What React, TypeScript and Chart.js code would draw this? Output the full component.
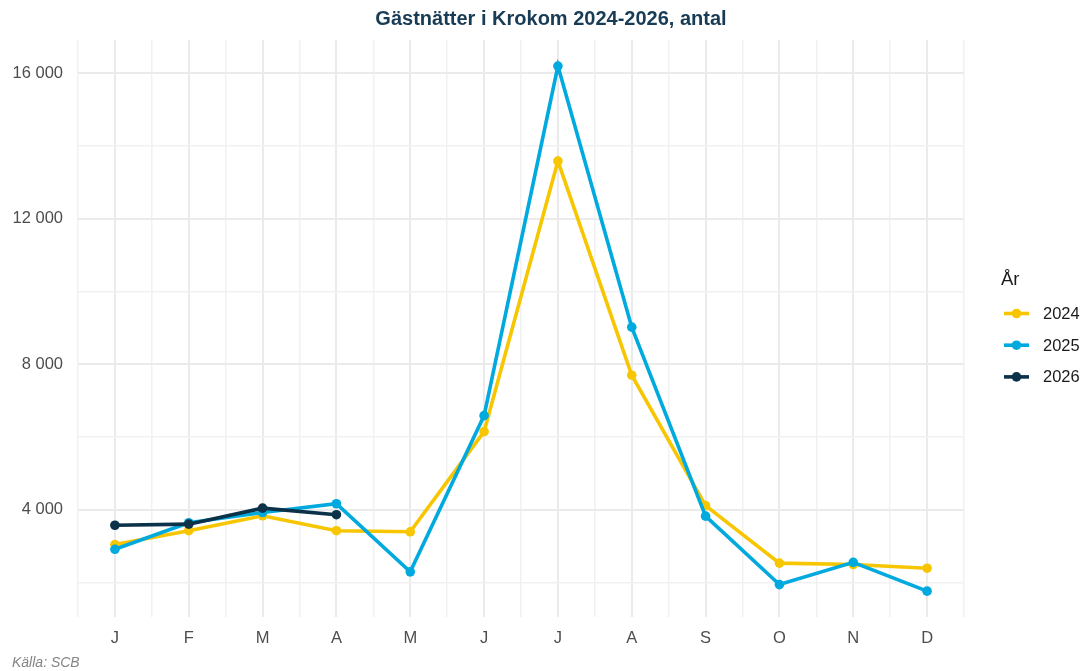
import React, { useEffect, useRef } from 'react';
import { Chart, registerables } from 'chart.js';

Chart.register(...registerables);

const titleText = 'Gästnätter i Krokom 2024-2026, antal';
const captionText = 'Källa: SCB';
const legendTitle = 'År';

const months = ['J', 'F', 'M', 'A', 'M', 'J', 'J', 'A', 'S', 'O', 'N', 'D'];
const years = ['2024', '2025', '2026'];
const values2024 = [3050, 3430, 3840, 3430, 3400, 6150, 13580, 7700, 4120, 2540, 2500, 2400];
const values2025 = [2920, 3650, 3930, 4170, 2300, 6590, 16190, 9020, 3830, 1950, 2560, 1770];
const values2026 = [3580, 3610, 4050, 3870];
const yTicks = [2000, 4000, 6000, 8000, 10000, 12000, 14000, 16000];
const yLabelledTicks = [4000, 8000, 12000, 16000];
const seriesColors = ['#F7C600', '#00A9DE', '#0B3249'];

const FONT = '"Liberation Sans", Arial, Helvetica, sans-serif';

const fmt = (v: number) => String(v).replace(/\B(?=(\d{3})+(?!\d))/g, ' ');

export default function App() {
  const canvasRef = useRef<HTMLCanvasElement | null>(null);

  useEffect(() => {
    if (!canvasRef.current) return;
    const allValues = [values2024, values2025, values2026];
    const datasets = years.map((yr, i) => ({
      label: yr,
      data: allValues[i].map((v, j) => ({ x: j + 1, y: v })),
      borderColor: seriesColors[i],
      backgroundColor: seriesColors[i],
      pointBackgroundColor: seriesColors[i],
      pointBorderWidth: 0,
      pointRadius: 4.8,
      borderWidth: 3.6,
      tension: 0,
      order: years.length - i,
    }));

    const overlay = {
      id: 'overlay',
      afterDraw(chart: any) {
        const ctx = chart.ctx;
        ctx.save();
        ctx.font = `bold 20px ${FONT}`;
        ctx.fillStyle = '#183C55';
        ctx.textAlign = 'center';
        ctx.textBaseline = 'alphabetic';
        ctx.fillText(titleText, 551, 24.5);
        ctx.font = `italic 14px ${FONT}`;
        ctx.fillStyle = '#858585';
        ctx.textAlign = 'left';
        ctx.fillText(captionText, 12, 667);
        const lx = chart.chartArea.right + 40;
        ctx.font = `18.5px ${FONT}`;
        ctx.fillStyle = '#1A1A1A';
        ctx.fillText(legendTitle, lx - 3, 285);
        years.forEach((yr, i) => {
          const cy = 313.5 + i * 31.7;
          ctx.strokeStyle = seriesColors[i];
          ctx.lineWidth = 3.6;
          ctx.beginPath();
          ctx.moveTo(lx, cy);
          ctx.lineTo(lx + 25, cy);
          ctx.stroke();
          ctx.fillStyle = seriesColors[i];
          ctx.beginPath();
          ctx.arc(lx + 12.5, cy, 4.8, 0, Math.PI * 2);
          ctx.fill();
          ctx.font = `16.5px ${FONT}`;
          ctx.fillStyle = '#1A1A1A';
          ctx.textBaseline = 'middle';
          ctx.fillText(yr, lx + 39, cy + 1);
          ctx.textBaseline = 'alphabetic';
        });
        ctx.restore();
      },
    };

    const chart = new Chart(canvasRef.current, {
      type: 'line',
      data: { datasets: datasets.reverse() as any },
      plugins: [overlay],
      options: {
        animation: false,
        responsive: false,
        maintainAspectRatio: false,
        layout: { padding: { top: 40, right: 122, bottom: 0, left: 0 } },
        plugins: {
          legend: { display: false },
          title: { display: false },
          tooltip: { enabled: false },
        },
        scales: {
          x: {
            type: 'linear',
            min: 0.5,
            max: 12.5,
            border: { display: false },
            afterFit: (s: any) => { s.height = 54; },
            afterBuildTicks: (s: any) => {
              const t: any[] = [];
              for (let k = 0; k <= months.length * 2; k++) t.push({ value: 0.5 + k * 0.5 });
              s.ticks = t;
            },
            grid: {
              drawTicks: false,
              color: (c: any) => (Number.isInteger(c.tick?.value) ? '#EBEBEB' : '#F1F1F1'),
              lineWidth: (c: any) => (Number.isInteger(c.tick?.value) ? 2 : 1.5),
            },
            ticks: {
              autoSkip: false,
              maxRotation: 0,
              padding: 12,
              color: '#4D4D4D',
              font: { family: FONT, size: 16.5 },
              callback: (v: any) => (Number.isInteger(v) ? months[v - 1] : ''),
            },
          },
          y: {
            type: 'linear',
            min: 1060,
            max: 16906,
            border: { display: false },
            afterFit: (s: any) => { s.width = 78; },
            afterBuildTicks: (s: any) => { s.ticks = yTicks.map((v) => ({ value: v })); },
            grid: {
              drawTicks: false,
              color: (c: any) => (yLabelledTicks.includes(c.tick?.value) ? '#EBEBEB' : '#F1F1F1'),
              lineWidth: (c: any) => (yLabelledTicks.includes(c.tick?.value) ? 2 : 1.5),
            },
            ticks: {
              autoSkip: false,
              padding: 15,
              color: '#4D4D4D',
              font: { family: FONT, size: 16.5 },
              callback: (v: any) => (yLabelledTicks.includes(v) ? fmt(v) : ''),
            },
          },
        },
      },
    });
    return () => chart.destroy();
  }, []);

  return (
    <div style={{ position: 'fixed', left: 0, top: 0, width: 1086, height: 671, background: '#fff' }}>
      <canvas ref={canvasRef} width={1086} height={671} style={{ width: 1086, height: 671 }} />
    </div>
  );
}
